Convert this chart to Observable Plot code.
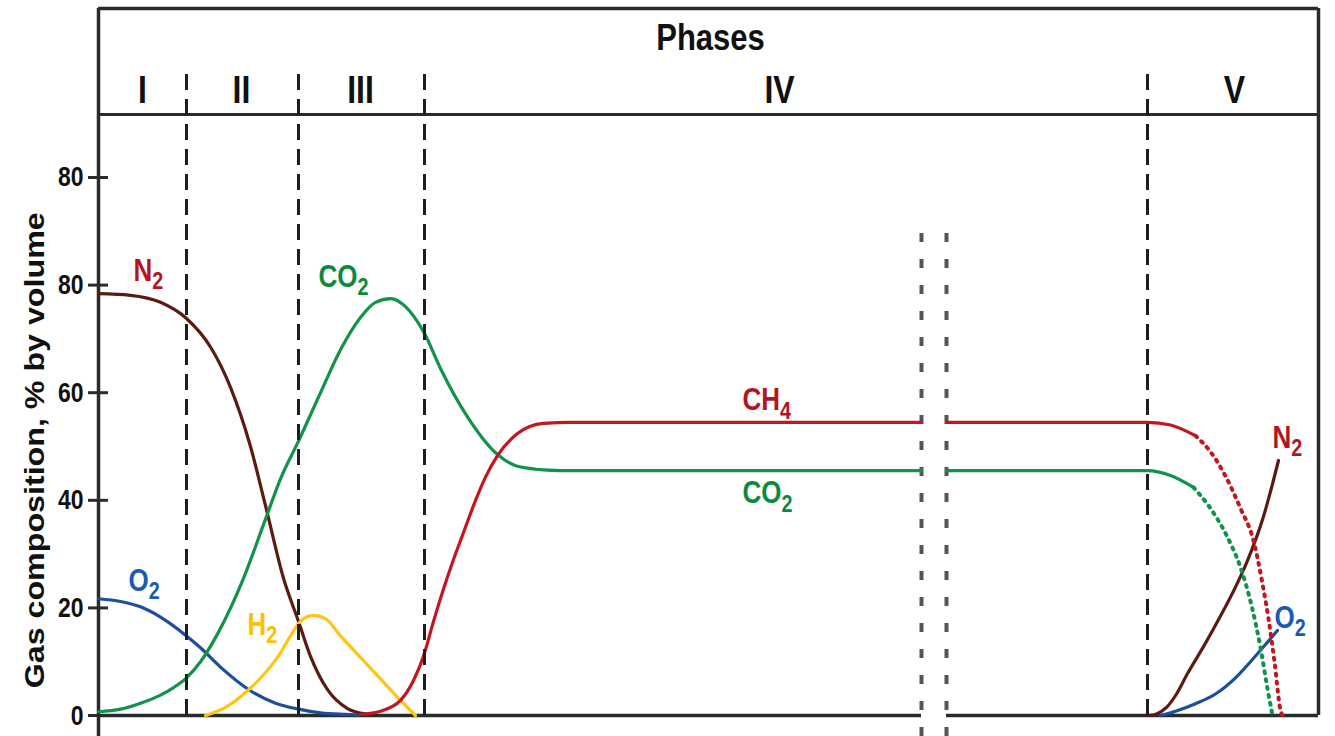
<!DOCTYPE html>
<html><head><meta charset="utf-8">
<script src="https://cdn.jsdelivr.net/npm/d3@7"></script>
<script src="https://cdn.jsdelivr.net/npm/@observablehq/plot@0.6"></script>
<style>body{margin:0;background:#fff} #chart svg{display:block}</style>
</head><body><div id="chart"></div>
<script>
// ---- data (x = arbitrary time units, y = % by volume) ----
const yTicks = [0, 20, 40, 60, 80, 100];
const yTickLabels = ["0", "20", "40", "60", "80", "80"];
const yTitle = "Gas composition, % by volume";
const headerTitle = "Phases";
const phaseNames = ["I", "II", "III", "IV", "V"];
const phaseCenters = [4.4, 14.3, 26.2, 68.1, 113.6];
const phaseBounds = [8.8, 20.0, 32.6, 104.9];
const breakAt = [82.3, 84.8];

const n2Early = [[0,78.4],[3.2,78.1],[6.2,76.8],[8.8,73.8],[11.2,68.5],[13.2,61],[15.2,50],[16.7,39],[18.5,25.5],[20.0,17.5],[21.2,11],[22.9,4.8],[24.9,1.3],[26.7,0.3]];
const o2Early = [[0,21.7],[2.2,21.2],[4.2,20.2],[6.2,18.3],[8.8,14.8],[10.2,12.6],[12.2,9],[15.2,4.6],[17.7,2.3],[20.0,1.2],[22.2,0.5],[24.7,0.2],[26,0.1]];
const h2 = [[10.7,0],[12.7,1.5],[14.9,4.6],[16.7,8],[17.9,10.8],[19.2,14.8],[20.2,17.5],[21.5,18.6],[22.7,18],[24.2,14.8],[26.2,10.8],[28.2,6.8],[30.2,2.8],[31.7,0]];
const co2Main = [[0,0.7],[2.2,1.2],[4.2,2.3],[6.2,3.8],[7.5,5.2],[8.8,7],[10.2,10],[12.0,15.5],[14.5,25.5],[16.7,36.5],[18.2,44],[20.0,51],[22.2,60],[24.2,68],[26.2,74],[27.7,76.8],[29.2,77.5],[30.7,76],[32.6,71],[34.2,64.5],[36.9,55.5],[39.9,48.5],[42.2,46.2],[46.2,45.5],[82.3,45.5]];
const co2Late = [[84.8,45.5],[104.9,45.5],[107.2,44.6],[109.5,42.4]];
const co2Fall = [[109.5,42.4],[111.2,38.5],[112.8,33.5],[114.2,27.5],[115.3,20.5],[116.2,12.6],[116.9,5],[117.4,0]];
const ch4Main = [[26.2,0.2],[28.2,0.8],[30.2,2.8],[31.5,6.5],[32.5,11],[33.5,17.5],[34.5,23.5],[35.5,29],[36.5,34],[37.5,39],[38.7,44.3],[39.9,48.3],[41.9,52.4],[44.5,54.3],[47.2,54.5],[82.3,54.5]];
const ch4Late = [[84.8,54.5],[104.9,54.5],[107.2,54],[109.7,52]];
const ch4Fall = [[109.7,52],[111.2,49],[112.7,44.5],[114.2,38.5],[115.5,32.5],[116.4,24.5],[117.0,18],[117.6,10],[118.2,1],[118.4,0]];
const n2Late = [[104.9,0],[105.8,0.3],[106.8,1.5],[107.8,4],[108.9,7.8],[110.5,12.8],[112.2,18.5],[113.6,23.5],[114.9,28.8],[116.5,37],[118.0,47.4]];
const o2Late = [[106.2,0],[107.7,0.8],[109.7,2.2],[111.7,4],[113.7,7],[115.2,10],[116.7,13.2],[117.9,15.8]];

const labelText = ["N2", "CO2", "O2", "H2", "CH4", "CO2", "N2", "O2"];
const labelSeries = ["N2", "CO2", "O2", "H2", "CH4", "CO2", "N2", "O2"];
const labelX = [3.5, 22.0, 3.0, 14.9, 64.4, 64.4, 117.4, 117.6];
const labelY = [82.7, 81.6, 25.1, 16.9, 58.6, 41.3, 51.7, 18.2];

// ---- styles ----
const lineColor = {N2: "#5a1b10", O2: "#1b4f9c", CO2: "#13924a", H2: "#ffc416", CH4: "#c3161f"};
const textColor = {N2: "#b3141f", O2: "#1a5ab5", CO2: "#0b8a3e", H2: "#ffc000", CH4: "#b3141f"};
const xMax = 122, yTop = 131.4, yHeader = 111.7, yBottom = -3.9, yDomainTop = 132.9;
const phaseLineTop = 120.3, breakLineTop = 91.3;

const solidSegs = [["N2", n2Early], ["O2", o2Early], ["H2", h2], ["CO2", co2Main], ["CH4", ch4Main],
                   ["CO2", co2Late], ["CH4", ch4Late], ["N2", n2Late], ["O2", o2Late]];
const dottedSegs = [["CO2", co2Fall], ["CH4", ch4Fall]];

const frameStroke = "#2b2b2b";
const marks = [
  // frame & header
  Plot.ruleY([yTop], {x1: 0, x2: xMax, stroke: frameStroke, strokeWidth: 3.5}),
  Plot.ruleY([yHeader], {x1: 0, x2: xMax, stroke: frameStroke, strokeWidth: 3}),
  Plot.ruleX([0], {y1: yBottom, y2: yTop, stroke: frameStroke, strokeWidth: 3.5}),
  Plot.ruleX([xMax], {y1: 0, y2: yTop, stroke: frameStroke, strokeWidth: 3.5}),
  Plot.ruleY([0], {x1: 0, x2: breakAt[0], stroke: frameStroke, strokeWidth: 3.5}),
  Plot.ruleY([0], {x1: breakAt[1], x2: xMax, stroke: frameStroke, strokeWidth: 3.5}),
  // y ticks (inner part) + axis
  Plot.ruleY(yTicks, {x1: 0, x2: 1, stroke: frameStroke, strokeWidth: 3}),
  Plot.axisY(yTicks, {tickSize: 10, tickPadding: 5, strokeWidth: 3, stroke: frameStroke,
    tickFormat: d => yTickLabels[yTicks.indexOf(d)], fontSize: 23, fill: "#111", label: null}),
  Plot.text([yTitle], {x: 0, y: 49.3, dx: -63, rotate: -90, fontSize: 28, fill: "#111"}),
  // header texts
  Plot.text([headerTitle], {x: 61.2, y: 126.0, fontSize: 31, fill: "#111"}),
  Plot.text(phaseNames, {x: (d, i) => phaseCenters[i], y: 116.2, fontSize: 32, fill: "#111"}),
  // break marks
  Plot.ruleX(breakAt, {y1: yBottom, y2: breakLineTop, stroke: "#555", strokeWidth: 4, strokeDasharray: "9,17"}),
];
for (const [name, pts] of solidSegs) {
  marks.push(Plot.line(pts, {x: d => d[0], y: d => d[1], stroke: lineColor[name], strokeWidth: 3.2, curve: "monotone-x"}));
}
for (const [name, pts] of dottedSegs) {
  marks.push(Plot.line(pts, {x: d => d[0], y: d => d[1], stroke: lineColor[name], strokeWidth: 4, strokeDasharray: "2,6", strokeLinecap: "round", curve: "monotone-x"}));
}
marks.push(Plot.ruleX(phaseBounds, {y1: 0, y2: phaseLineTop, stroke: "#1e1e1e", strokeWidth: 3, strokeDasharray: "16,9"}));
marks.push(Plot.text(labelText, {x: (d, i) => labelX[i], y: (d, i) => labelY[i],
  fill: (d, i) => textColor[labelSeries[i]], textAnchor: "start", fontSize: 26}));

const svg = Plot.plot({
  width: 1335, height: 736,
  marginLeft: 98, marginRight: 17, marginTop: 0, marginBottom: 0,
  x: {domain: [0, xMax], axis: null},
  y: {domain: [yBottom, yDomainTop], axis: null},
  color: {type: "identity"},
  style: {fontFamily: "'Liberation Sans', Arial, sans-serif", fontWeight: "bold", background: "#fff", overflow: "visible"},
  marks
});

const root = d3.select(svg);
// subscripts for gas formulas
const gasSet = new Set(labelText);
root.selectAll("text").each(function() {
  const t = this.textContent;
  const s = d3.select(this);
  if (gasSet.has(t)) {
    s.text(null);
    s.append("tspan").text(t.slice(0, -1));
    s.append("tspan").attr("dy", "0.34em").attr("font-size", "0.76em").text(t.slice(-1));
  }
  if (t === yTitle) {
    s.attr("textLength", 476).attr("lengthAdjust", "spacingAndGlyphs");
  } else {
    // the original lettering is slightly tall: stretch horizontal texts vertically
    const tr = this.getAttribute("transform");
    if (tr && !/rotate/.test(tr)) s.attr("transform", tr + " scale(1,1.22)");
    else if (!tr) {
      const x = +this.getAttribute("x") || 0, y = +this.getAttribute("y") || 0;
      s.attr("transform", `translate(${x},${y}) scale(1,1.22) translate(${-x},${-y})`);
    }
  }
});

document.getElementById("chart").appendChild(svg);
</script>
</body></html>
